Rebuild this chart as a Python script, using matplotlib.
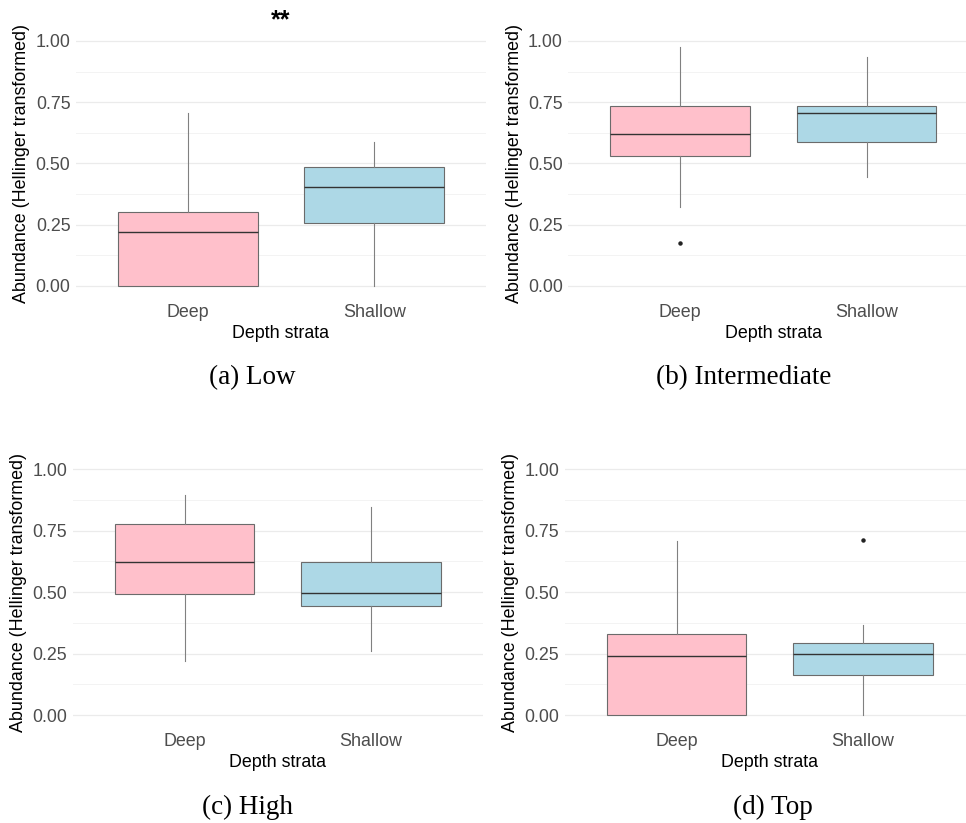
import numpy as np
import matplotlib.pyplot as plt
from matplotlib.ticker import MultipleLocator

plt.rcParams['font.family'] = ['Liberation Sans', 'DejaVu Sans']

groups = ['Deep', 'Shallow']
fills = ['#FFC0CB', '#ADD8E6']

# whisker low, q1, median, q3, whisker high
low_deep = [0.0, 0.0, 0.221, 0.304, 0.707]
low_shallow = [0.0, 0.258, 0.405, 0.484, 0.588]
inter_deep = [0.322, 0.531, 0.622, 0.736, 0.977]
inter_shallow = [0.446, 0.588, 0.705, 0.736, 0.933]
high_deep = [0.220, 0.491, 0.624, 0.779, 0.894]
high_shallow = [0.259, 0.442, 0.498, 0.624, 0.847]
top_deep = [0.0, 0.0, 0.242, 0.328, 0.708]
top_shallow = [0.0, 0.161, 0.248, 0.293, 0.366]

# outliers
inter_deep_out = [0.175]
top_shallow_out = [0.712]

panels = [
    ('(a) Low', low_deep, low_shallow, [], [], '**'),
    ('(b) Intermediate', inter_deep, inter_shallow, inter_deep_out, [], ''),
    ('(c) High', high_deep, high_shallow, [], [], ''),
    ('(d) Top', top_deep, top_shallow, [], top_shallow_out, ''),
]

W, H = 966, 823
fig = plt.figure(figsize=(W / 100, H / 100), dpi=100)

# panel boxes in pixels: left, top, width, height
boxes = [(76, 28.75, 410, 269.5), (568.4, 28.75, 410, 269.5),
         (72.7, 457.0, 410, 270.3), (564.7, 457.0, 410, 270.3)]
caption_pos = [(252, 378), (744, 378), (247, 807), (773, 807)]


def stats(v, fl):
    return dict(whislo=v[0], q1=v[1], med=v[2], q3=v[3], whishi=v[4], fliers=fl)


for (cap, d, s, dfl, sfl, sig), (l, t, w, h), (cx, cy) in zip(panels, boxes, caption_pos):
    ax = fig.add_axes([l / W, 1 - (t + h) / H, w / W, h / H])
    bp = ax.bxp([stats(d, dfl), stats(s, sfl)], positions=[1, 2], widths=0.75,
                patch_artist=True, showcaps=False,
                boxprops=dict(edgecolor='#6b6b6b', linewidth=0.8),
                medianprops=dict(color='#333333', linewidth=1.0),
                whiskerprops=dict(color='#808080', linewidth=0.8),
                flierprops=dict(marker='o', markersize=2.2, markerfacecolor='#222222',
                                markeredgecolor='#222222'))
    for patch, c in zip(bp['boxes'], fills):
        patch.set_facecolor(c)

    ax.set_xlim(0.4, 2.6)
    ax.set_ylim(-0.05, 1.05)
    ax.set_xticks([1, 2])
    ax.set_xticklabels(groups)
    ax.yaxis.set_minor_locator(MultipleLocator(0.125))
    ax.set_yticks([0, 0.25, 0.5, 0.75, 1.0])
    ax.set_yticklabels(['0.00', '0.25', '0.50', '0.75', '1.00'])
    ax.tick_params(axis='both', which='both', length=0, labelsize=12.9, colors='#4d4d4d')
    ax.tick_params(axis='y', pad=4)
    ax.tick_params(axis='x', pad=4)
    ax.grid(axis='y', which='major', color='#ebebeb', linewidth=0.9)
    ax.grid(axis='y', which='minor', color='#f3f3f3', linewidth=0.7)
    ax.grid(axis='x', visible=False)
    ax.set_axisbelow(True)
    for sp in ax.spines.values():
        sp.set_visible(False)

    ax.set_xlabel('Depth strata', fontsize=12.9, color='black')
    ax.xaxis.label.set_va('center')
    ax.xaxis.set_label_coords(0.5, -35.7 / h)
    ax.set_ylabel('Abundance (Hellinger transformed)', fontsize=12.9, color='black')
    ax.yaxis.label.set_va('center')
    ax.yaxis.set_label_coords(-54 / w, 0.5)

    # significance marker above the panel
    if sig:
        ax.text(0.5, 1 + (t - 20) / h, sig, transform=ax.transAxes, ha='center',
                va='center', fontsize=18, fontweight='bold', color='black')

    fig.text(cx / W, 1 - cy / H, cap, ha='center', va='center', fontsize=19.5,
             family=['Liberation Serif', 'DejaVu Serif'])

fig.savefig('out.png', dpi=100)
